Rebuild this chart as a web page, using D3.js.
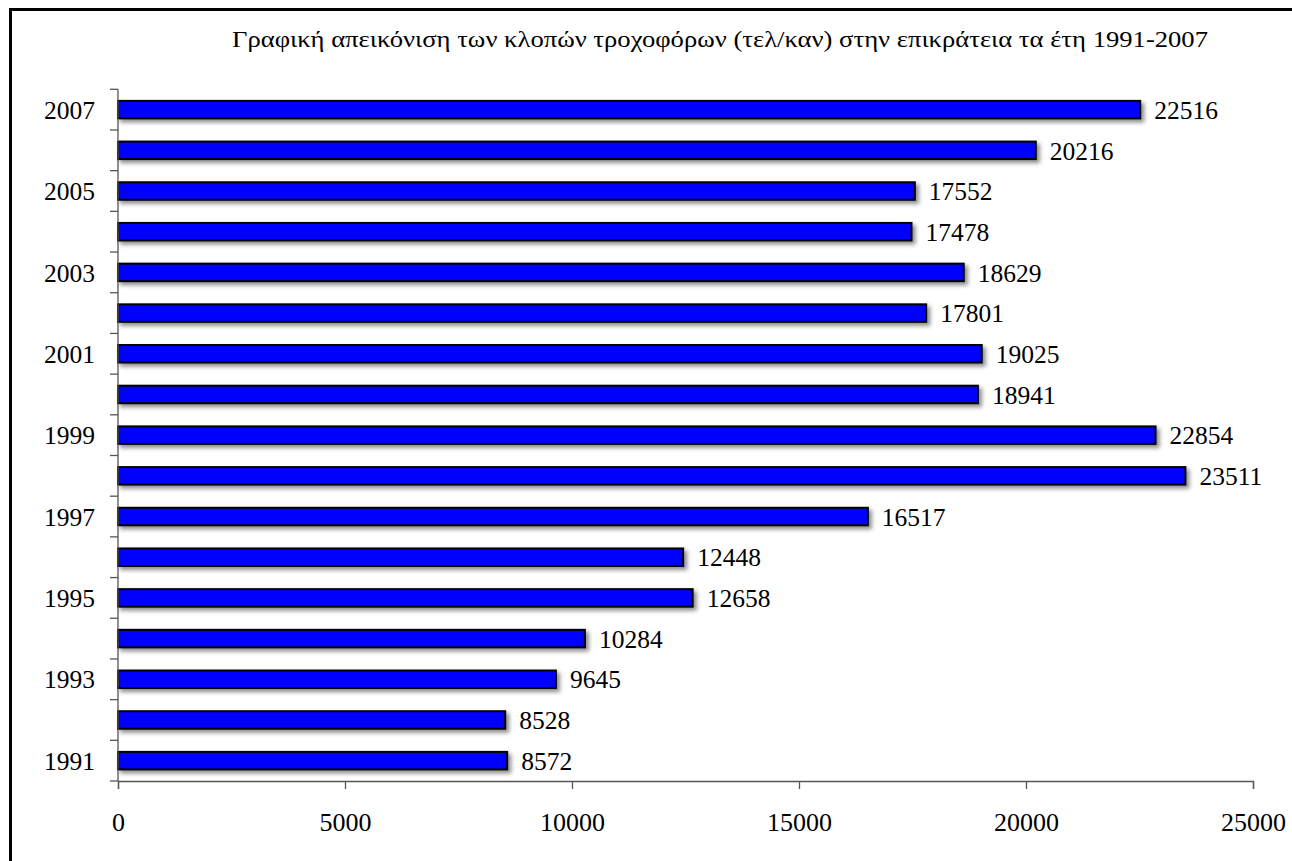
<!DOCTYPE html>
<html>
<head>
<meta charset="utf-8">
<script src="https://cdn.jsdelivr.net/npm/d3@7"></script>
<style>
  html, body { margin: 0; padding: 0; background: #fff; overflow: hidden; }
  svg { display: block; font-family: "Liberation Serif", "Times New Roman", serif; }
</style>
</head>
<body>
<svg id="chart" width="1292" height="861"></svg>
<script>
const years = [1991,1992,1993,1994,1995,1996,1997,1998,1999,2000,2001,2002,2003,2004,2005,2006,2007];
const thefts = [8572,8528,9645,10284,12658,12448,16517,23511,22854,18941,19025,17801,18629,17478,17552,20216,22516];
const xTicks = [0,5000,10000,15000,20000,25000];
const yLabelYears = [1991,1993,1995,1997,1999,2001,2003,2005,2007];
const title = "Γραφική απεικόνιση των κλοπών τροχοφόρων (τελ/καν) στην επικράτεια τα έτη 1991-2007";

const svg = d3.select("#chart");
const W = 1292, H = 861;
const mLeft = 118, mRight = 1253, mTop = 89.3, mBottom = 781;

// frame
svg.append("rect").attr("x", 10.5).attr("y", 9.5).attr("width", W + 20).attr("height", H + 20)
  .attr("fill", "#fff").attr("stroke", "#000").attr("stroke-width", 3);

const defs = svg.append("defs");
const f = defs.append("filter").attr("id", "shadow").attr("x", "-5%").attr("y", "-50%").attr("width", "110%").attr("height", "220%");
f.append("feDropShadow").attr("dx", 3).attr("dy", 3).attr("stdDeviation", 2.2)
  .attr("flood-color", "#000").attr("flood-opacity", 0.45);

const x = d3.scaleLinear().domain([0, 25000]).range([mLeft, mRight]);
const order = years.slice().reverse();
const y = d3.scaleBand().domain(order).range([mTop, mBottom]).paddingInner(0.57).paddingOuter(0.285);
const step = y.step();

// title
const t = svg.append("text").attr("x", 720).attr("y", 47).attr("text-anchor", "middle")
  .attr("font-size", 24).attr("fill", "#000").text(title);
const tw = t.node().getComputedTextLength();
if (Math.abs(tw - 976) > 4) t.attr("textLength", 976).attr("lengthAdjust", "spacingAndGlyphs");

// bars
const data = years.map((yr, i) => ({ year: yr, value: thefts[i] }));
svg.append("g").selectAll("rect").data(data).join("rect")
  .attr("x", x(0))
  .attr("y", d => y(d.year))
  .attr("width", d => x(d.value) - x(0))
  .attr("height", y.bandwidth())
  .attr("fill", "#0000ff")
  .attr("stroke", "#000")
  .attr("stroke-width", 2)
  .attr("filter", "url(#shadow)");

// value labels
svg.append("g").selectAll("text").data(data).join("text")
  .attr("x", d => x(d.value) + 14)
  .attr("y", d => y(d.year) + y.bandwidth() / 2)
  .attr("dy", "0.36em")
  .attr("font-size", 25.5)
  .attr("fill", "#000")
  .text(d => d.value);

// y axis
const axisColor = "#555";
svg.append("line").attr("x1", mLeft).attr("x2", mLeft).attr("y1", mTop).attr("y2", mBottom)
  .attr("stroke", axisColor).attr("stroke-width", 1.3);
const boundaries = order.map(d => y(d) - step * y.paddingInner() / 2).concat([mBottom]);
svg.append("g").selectAll("line").data(boundaries).join("line")
  .attr("x1", mLeft - 8).attr("x2", mLeft)
  .attr("y1", d => d).attr("y2", d => d)
  .attr("stroke", axisColor).attr("stroke-width", 1.3);
svg.append("g").selectAll("text").data(yLabelYears).join("text")
  .attr("x", 95)
  .attr("y", d => y(d) + y.bandwidth() / 2)
  .attr("dy", "0.36em")
  .attr("text-anchor", "end")
  .attr("font-size", 25.5)
  .attr("fill", "#000")
  .text(d => d);

// x axis
const xAxis = d3.axisBottom(x).tickValues(xTicks).tickSize(8).tickPadding(0).tickFormat(d3.format("d"));
const gx = svg.append("g").attr("transform", `translate(0,${mBottom})`).call(xAxis);
gx.select(".domain").attr("stroke", axisColor).attr("stroke-width", 1.3);
gx.selectAll(".tick line").attr("stroke", axisColor).attr("stroke-width", 1.3);
gx.selectAll(".tick text").attr("font-family", "'Liberation Serif', 'Times New Roman', serif")
  .attr("font-size", 26).attr("fill", "#000").attr("y", 50).attr("dy", 0);
</script>
</body>
</html>
